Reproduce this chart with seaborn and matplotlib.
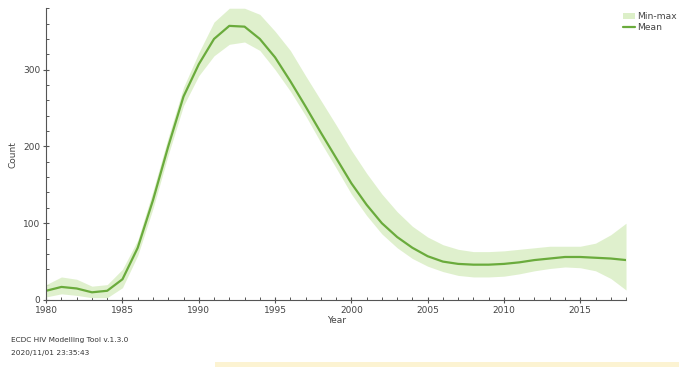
import numpy as np
import pandas as pd
import matplotlib
matplotlib.use("Agg")
import matplotlib.pyplot as plt
from matplotlib.patches import Patch, Rectangle
from matplotlib.lines import Line2D
from matplotlib.ticker import MultipleLocator
import seaborn as sns

years = list(range(1980, 2019))
mean_count = [12, 17, 15, 10, 12, 27, 68, 130, 200, 265, 307, 340, 357, 356, 340,
              316, 285, 252, 218, 185, 152, 124, 100, 82, 68, 57, 50, 47, 46, 46,
              47, 49, 52, 54, 56, 56, 55, 54, 52]
max_count = [20, 30, 27, 18, 20, 40, 78, 142, 212, 277, 322, 362, 380, 380, 372,
             350, 325, 292, 260, 228, 195, 165, 138, 115, 96, 82, 72, 66, 63, 63,
             64, 66, 68, 70, 70, 70, 74, 85, 100]
min_count = [4, 8, 6, 3, 3, 16, 58, 119, 189, 253, 292, 318, 333, 336, 325,
             300, 272, 240, 205, 172, 138, 110, 86, 68, 54, 44, 37, 32, 30, 30,
             31, 34, 38, 41, 43, 42, 38, 28, 13]

df = pd.DataFrame({"Year": years, "Mean": mean_count,
                   "Min": min_count, "Max": max_count})

sns.set_style("white")
plt.rcParams["font.family"] = ["DejaVu Sans"]

line_color = "#6aab3c"
band_color = "#dcefc8"
text_color = "#444444"

fig = plt.figure(figsize=(6.79, 3.67), dpi=100)
ax = fig.add_axes([0.068, 0.1826, 0.854, 0.795])

ax.fill_between(df["Year"], df["Min"], df["Max"], color=band_color, alpha=0.9,
                linewidth=0)
sns.lineplot(data=df, x="Year", y="Mean", ax=ax, color=line_color, linewidth=1.6)

ax.set_xlim(1980, 2018)
ax.set_ylim(0, 380)
ax.xaxis.set_major_locator(MultipleLocator(5))
ax.xaxis.set_minor_locator(MultipleLocator(1))
ax.yaxis.set_major_locator(MultipleLocator(100))
ax.yaxis.set_minor_locator(MultipleLocator(20))
ax.tick_params(axis="both", which="major", direction="inout", length=5,
               width=0.8, color="#555555", labelsize=6.5, labelcolor=text_color,
               pad=1.5)
ax.tick_params(axis="both", which="minor", direction="in", length=2.5,
               width=0.7, color="#555555")
ax.tick_params(axis="x", which="both", bottom=True)
ax.tick_params(axis="y", which="both", left=True)

for side in ("top", "right"):
    ax.spines[side].set_visible(False)
for side in ("left", "bottom"):
    ax.spines[side].set_color("#555555")
    ax.spines[side].set_linewidth(0.8)

ax.set_xlabel("Year", fontsize=6.5, color=text_color, labelpad=1)
ax.set_ylabel("Count", fontsize=6.5, color=text_color, labelpad=4)

handles = [Patch(facecolor=band_color, edgecolor="none", label="Min-max"),
           Line2D([0], [0], color=line_color, linewidth=1.6, label="Mean")]
fig.legend(handles=handles, loc="upper left", bbox_to_anchor=(0.908, 0.985),
           frameon=False, fontsize=6.6, labelcolor=text_color,
           handlelength=1.3, handletextpad=0.3, labelspacing=0.2,
           borderpad=0.2)

fig.text(0.016, 0.073, "ECDC HIV Modelling Tool v.1.3.0", fontsize=5.3,
         color="#333333", va="center")
fig.text(0.016, 0.037, "2020/11/01 23:35:43", fontsize=5.3,
         color="#333333", va="center")

fig.patches.append(Rectangle((0.317, 0.0), 0.683, 0.014, transform=fig.transFigure,
                             facecolor="#fcf3d2", edgecolor="none"))

fig.savefig("out.png", dpi=100)
